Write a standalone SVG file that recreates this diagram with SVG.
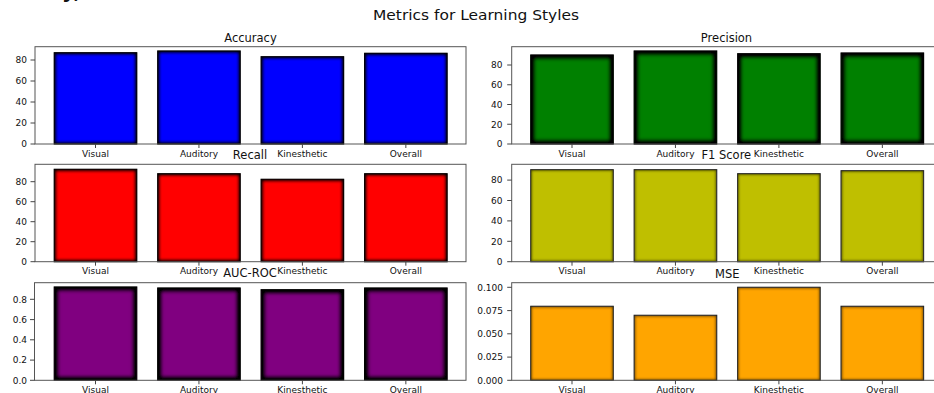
<svg xmlns="http://www.w3.org/2000/svg" width="934" height="393" viewBox="0 0 934 393">
<style>
text{font-family:"DejaVu Sans","Liberation Sans",sans-serif;fill:#111}
.t{font-size:11.5px;text-anchor:middle}
.xl{font-size:9px;text-anchor:middle}
.yl{font-size:9px;text-anchor:end}
.ax{fill:none;stroke:#555;stroke-width:1}
.tk{stroke:#444;stroke-width:1}
.bh{stroke:#444;stroke-width:1;filter:url(#shH)}
.bm{stroke:#444;stroke-width:1;filter:url(#shM)}
.bl{stroke:#555;stroke-width:1;filter:url(#shL)}
</style>
<defs>
<filter id="shH" x="-10%" y="-10%" width="120%" height="120%">
<feMorphology in="SourceAlpha" operator="erode" radius="4.5" result="e"/>
<feGaussianBlur in="e" stdDeviation="1.6" result="eb"/>
<feFlood flood-color="#000" result="f"/>
<feComposite in="f" in2="eb" operator="out" result="ring"/>
<feComposite in="ring" in2="SourceAlpha" operator="in" result="sh"/>
<feMerge><feMergeNode in="SourceGraphic"/><feMergeNode in="sh"/></feMerge>
</filter>
<filter id="shM" x="-10%" y="-10%" width="120%" height="120%">
<feMorphology in="SourceAlpha" operator="erode" radius="3.4" result="e"/>
<feGaussianBlur in="e" stdDeviation="1.3" result="eb"/>
<feFlood flood-color="#000" result="f"/>
<feComposite in="f" in2="eb" operator="out" result="ring"/>
<feComposite in="ring" in2="SourceAlpha" operator="in" result="sh"/>
<feMerge><feMergeNode in="SourceGraphic"/><feMergeNode in="sh"/></feMerge>
</filter>
<filter id="shL" x="-10%" y="-10%" width="120%" height="120%">
<feMorphology in="SourceAlpha" operator="erode" radius="1.6" result="e"/>
<feGaussianBlur in="e" stdDeviation="0.8" result="eb"/>
<feFlood flood-color="#000" flood-opacity="0.8" result="f"/>
<feComposite in="f" in2="eb" operator="out" result="ring"/>
<feComposite in="ring" in2="SourceAlpha" operator="in" result="sh"/>
<feMerge><feMergeNode in="SourceGraphic"/><feMergeNode in="sh"/></feMerge>
</filter>
</defs>
<rect width="934" height="393" fill="#fff"/>
<text x="62" y="-2" style="font-size:20px;font-weight:bold">y,</text>
<text x="476" y="19.5" style="font-size:14.5px;text-anchor:middle" textLength="206" lengthAdjust="spacingAndGlyphs">Metrics for Learning Styles</text>

<g id="accuracy">
<g fill="#0000ff" class="bars">
<rect class="bm" x="54.25" y="52.7" width="82.5" height="91.3"/>
<rect class="bm" x="157.7" y="51" width="82.5" height="93"/>
<rect class="bm" x="261.15" y="56.7" width="82.5" height="87.3"/>
<rect class="bm" x="364.6" y="53.3" width="82.5" height="90.7"/>
</g>
<rect class="ax" x="35" y="46.7" width="431" height="97.3"/>
<path class="tk" d="M95.5 144v4M198.95 144v4M302.4 144v4M405.85 144v4M30.5 60h4.5M30.5 81h4.5M30.5 102h4.5M30.5 123h4.5M30.5 144h4.5"/>
<text class="yl" x="27" y="63.3">80</text>
<text class="yl" x="27" y="84.3">60</text>
<text class="yl" x="27" y="105.3">40</text>
<text class="yl" x="27" y="126.3">20</text>
<text class="yl" x="27" y="147.3">0</text>
<text class="xl" x="95.5" y="156.5">Visual</text>
<text class="xl" x="198.95" y="156.5">Auditory</text>
<text class="xl" x="302.4" y="156.5">Kinesthetic</text>
<text class="xl" x="405.85" y="156.5">Overall</text>
<text class="t" x="250.5" y="41.5">Accuracy</text>
</g>

<g id="precision">
<g fill="#008000">
<rect class="bh" x="530.75" y="55" width="82.5" height="89"/>
<rect class="bh" x="634.2" y="51" width="82.5" height="93"/>
<rect class="bh" x="737.65" y="53.7" width="82.5" height="90.3"/>
<rect class="bh" x="841.1" y="53" width="82.5" height="91"/>
</g>
<rect class="ax" x="511.7" y="46.7" width="440" height="97.3"/>
<path class="tk" d="M572 144v4M675.45 144v4M778.9 144v4M882.35 144v4M507.2 65h4.5M507.2 84.75h4.5M507.2 104.5h4.5M507.2 124.25h4.5M507.2 144h4.5"/>
<text class="yl" x="502.5" y="68.3">80</text>
<text class="yl" x="502.5" y="88">60</text>
<text class="yl" x="502.5" y="107.8">40</text>
<text class="yl" x="502.5" y="127.5">20</text>
<text class="yl" x="502.5" y="147.3">0</text>
<text class="xl" x="572" y="156.5">Visual</text>
<text class="xl" x="675.45" y="156.5">Auditory</text>
<text class="xl" x="778.9" y="156.5">Kinesthetic</text>
<text class="xl" x="882.35" y="156.5">Overall</text>
<text class="t" x="726.5" y="41.5">Precision</text>
</g>

<g id="recall">
<g fill="#ff0000">
<rect class="bm" x="54.25" y="169.3" width="82.5" height="92.4"/>
<rect class="bm" x="157.7" y="173.7" width="82.5" height="88"/>
<rect class="bm" x="261.15" y="179.3" width="82.5" height="82.4"/>
<rect class="bm" x="364.6" y="173.7" width="82.5" height="88"/>
</g>
<rect class="ax" x="35" y="164.3" width="431" height="97.4"/>
<path class="tk" d="M95.5 261.7v4M198.95 261.7v4M302.4 261.7v4M405.85 261.7v4M30.5 181.7h4.5M30.5 201.7h4.5M30.5 221.7h4.5M30.5 241.7h4.5M30.5 261.7h4.5"/>
<text class="yl" x="27" y="185">80</text>
<text class="yl" x="27" y="205">60</text>
<text class="yl" x="27" y="225">40</text>
<text class="yl" x="27" y="245">20</text>
<text class="yl" x="27" y="265">0</text>
<text class="xl" x="95.5" y="274">Visual</text>
<text class="xl" x="198.95" y="274">Auditory</text>
<text class="xl" x="302.4" y="274">Kinesthetic</text>
<text class="xl" x="405.85" y="274">Overall</text>
<text class="t" x="250" y="158.5">Recall</text>
</g>

<g id="f1score">
<g fill="#bfbf00">
<rect class="bl" x="530.75" y="169.7" width="82.5" height="92"/>
<rect class="bl" x="634.2" y="169.7" width="82.5" height="92"/>
<rect class="bl" x="737.65" y="173.7" width="82.5" height="88"/>
<rect class="bl" x="841.1" y="170.7" width="82.5" height="91"/>
</g>
<rect class="ax" x="511.7" y="164.3" width="440" height="97.4"/>
<path class="tk" d="M572 261.7v4M675.45 261.7v4M778.9 261.7v4M882.35 261.7v4M507.2 180.1h4.5M507.2 200.5h4.5M507.2 220.9h4.5M507.2 241.3h4.5M507.2 261.7h4.5"/>
<text class="yl" x="502.5" y="183.4">80</text>
<text class="yl" x="502.5" y="203.8">60</text>
<text class="yl" x="502.5" y="224.2">40</text>
<text class="yl" x="502.5" y="244.6">20</text>
<text class="yl" x="502.5" y="265">0</text>
<text class="xl" x="572" y="274">Visual</text>
<text class="xl" x="675.45" y="274">Auditory</text>
<text class="xl" x="778.9" y="274">Kinesthetic</text>
<text class="xl" x="882.35" y="274">Overall</text>
<text class="t" x="726.3" y="158.5">F1 Score</text>
</g>

<g id="aucroc">
<g fill="#800080">
<rect class="bh" x="54.25" y="287" width="82.5" height="93.3"/>
<rect class="bh" x="157.7" y="288" width="82.5" height="92.3"/>
<rect class="bh" x="261.15" y="289.7" width="82.5" height="90.6"/>
<rect class="bh" x="364.6" y="288" width="82.5" height="92.3"/>
</g>
<rect class="ax" x="34.5" y="282.7" width="431.5" height="97.6"/>
<path class="tk" d="M95.5 380.3v4M198.95 380.3v4M302.4 380.3v4M405.85 380.3v4M30 299.3h4.5M30 319.6h4.5M30 339.8h4.5M30 360.1h4.5M30 380.3h4.5"/>
<text class="yl" x="27" y="302.6">0.8</text>
<text class="yl" x="27" y="322.9">0.6</text>
<text class="yl" x="27" y="343.1">0.4</text>
<text class="yl" x="27" y="363.4">0.2</text>
<text class="yl" x="27" y="383.6">0.0</text>
<text class="xl" x="95.5" y="392.8">Visual</text>
<text class="xl" x="198.95" y="392.8">Auditory</text>
<text class="xl" x="302.4" y="392.8">Kinesthetic</text>
<text class="xl" x="405.85" y="392.8">Overall</text>
<text class="t" x="250" y="277">AUC-ROC</text>
</g>

<g id="mse">
<g fill="#ffa500">
<rect class="bl" x="530.75" y="306.3" width="82.5" height="74"/>
<rect class="bl" x="634.2" y="315.3" width="82.5" height="65"/>
<rect class="bl" x="737.65" y="287.3" width="82.5" height="93"/>
<rect class="bl" x="841.1" y="306.3" width="82.5" height="74"/>
</g>
<rect class="ax" x="511.7" y="282.7" width="440" height="97.6"/>
<path class="tk" d="M572 380.3v4M675.45 380.3v4M778.9 380.3v4M882.35 380.3v4M507.2 287.3h4.5M507.2 310.6h4.5M507.2 333.8h4.5M507.2 357.1h4.5M507.2 380.3h4.5"/>
<text class="yl" x="503" y="290.6">0.100</text>
<text class="yl" x="503" y="313.9">0.075</text>
<text class="yl" x="503" y="337.1">0.050</text>
<text class="yl" x="503" y="360.4">0.025</text>
<text class="yl" x="503" y="383.6">0.000</text>
<text class="xl" x="572" y="392.8">Visual</text>
<text class="xl" x="675.45" y="392.8">Auditory</text>
<text class="xl" x="778.9" y="392.8">Kinesthetic</text>
<text class="xl" x="882.35" y="392.8">Overall</text>
<text class="t" x="727.3" y="277.7">MSE</text>
</g>
</svg>
